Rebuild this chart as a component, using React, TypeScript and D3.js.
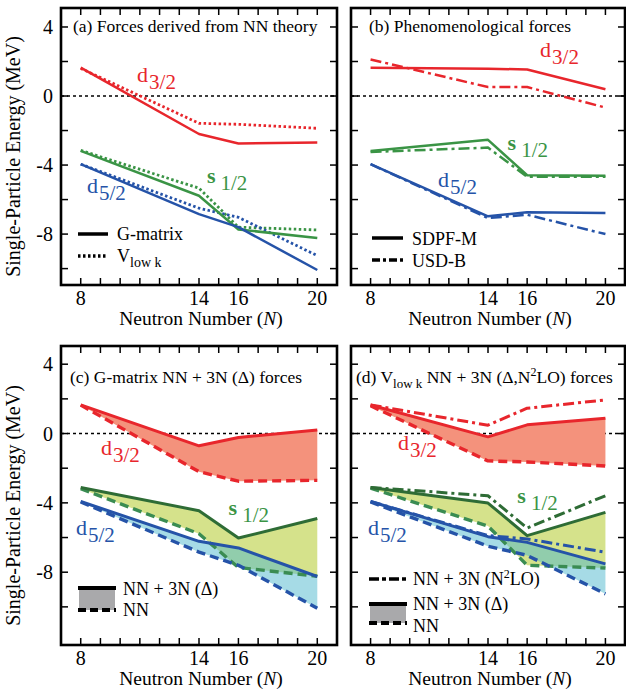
import * as d3 from "d3";

// neutron numbers where the calculations were done
const NS = [8, 14, 16, 20];
const X_TICKS = d3.range(8, 21);
const X_LABELS = [8, 14, 16, 20];
const Y_TICKS = [-10, -8, -6, -4, -2, 0, 2, 4];
const Y_LABELS = [-8, -4, 0, 4];

// (a) forces derived from NN theory
const gMatrixD32 = [1.64, -2.2, -2.75, -2.7];
const gMatrixS12 = [-3.18, -5.78, -7.73, -8.23];
const gMatrixD52 = [-3.95, -6.84, -7.6, -10.08];
const vlowkD32 = [1.6, -1.58, -1.64, -1.87];
const vlowkS12 = [-3.15, -5.34, -7.6, -7.76];
const vlowkD52 = [-3.95, -6.5, -7.03, -9.25];

// (b) phenomenological forces
const sdpfmD32 = [1.64, 1.58, 1.54, 0.39];
const sdpfmS12 = [-3.18, -2.54, -4.59, -4.62];
const sdpfmD52 = [-3.95, -6.97, -6.74, -6.78];
const usdbD32 = [2.12, 0.52, 0.52, -0.67];
const usdbS12 = [-3.24, -2.99, -4.68, -4.68];
const usdbD52 = [-3.95, -7.07, -6.88, -8.0];

// (c) G-matrix NN + 3N (Delta)
const gDeltaD32 = [1.65, -0.71, -0.23, 0.21];
const gDeltaS12 = [-3.11, -4.45, -6.03, -4.9];
const gDeltaD52 = [-3.92, -6.22, -6.6, -8.25];

// (d) Vlowk NN + 3N (Delta, N2LO)
const vDeltaD32 = [1.65, -0.19, 0.5, 0.88];
const vDeltaS12 = [-3.11, -4.01, -5.89, -4.55];
const vDeltaD52 = [-3.92, -5.95, -6.28, -7.52];
const vN2loD32 = [1.65, 0.48, 1.46, 1.94];
const vN2loS12 = [-3.11, -3.59, -5.45, -3.59];
const vN2loD52 = [-3.92, -5.89, -6.08, -6.85];

const RED = "#e8262c";
const GREEN = "#3a9445";
const GREEN_DK = "#2e6c35";
const GREEN_DASH = "#3a8c52";
const BLUE = "#2553a8";
const FONT = "Liberation Serif";
const TS = { fontFamily: FONT };

const DOTS = "2.5 2.5";
const DASH = "9 5";
const DASHDOT = "11 4 3 4";

type PanelCfg = { id: string; x0: number; x1: number; y0: number; y1: number; yMin: number; yMax: number; yLabels: boolean };

const PA: PanelCfg = { id: "a", x0: 61, x1: 337, y0: 8, y1: 285, yMin: -10.95, yMax: 5.1, yLabels: true };
const PB: PanelCfg = { id: "b", x0: 351, x1: 625, y0: 8, y1: 285, yMin: -10.95, yMax: 5.1, yLabels: false };
const PC: PanelCfg = { id: "c", x0: 61, x1: 337, y0: 346, y1: 645, yMin: -12.2, yMax: 5.05, yLabels: true };
const PD: PanelCfg = { id: "d", x0: 351, x1: 625, y0: 346, y1: 645, yMin: -12.2, yMax: 5.05, yLabels: false };

type Series = { vals: number[]; color: string; width: number; dash?: string };
type Band = { lo: number[]; hi: number[]; color: string; opacity: number };
type Lab = { n: number; v: number; main: string; sub: string; color: string; bold?: boolean };

function Panel({ p, bands, lines, labels }: { p: PanelCfg; bands: Band[]; lines: Series[]; labels: Lab[] }) {
  const x = d3.scaleLinear().domain([7, 21]).range([p.x0, p.x1]);
  const y = d3.scaleLinear().domain([p.yMin, p.yMax]).range([p.y1, p.y0]);
  const line = d3.line<number>().x((_, i) => x(NS[i])).y(d => y(d));
  const tl = 7;
  const clipId = "clip-" + p.id;
  return (
    <g>
      <clipPath id={clipId}>
        <rect x={p.x0} y={p.y0} width={p.x1 - p.x0} height={p.y1 - p.y0} />
      </clipPath>
      <line x1={p.x0} x2={p.x1} y1={y(0)} y2={y(0)} stroke="#000" strokeWidth={1.6} strokeDasharray="3 3" />
      <g clipPath={`url(#${clipId})`}>
        {bands.map((b, k) => {
          const area = d3.area<number>().x((_, i) => x(NS[i])).y0(d => y(d)).y1((_, i) => y(b.hi[i]));
          return <path key={k} d={area(b.lo) || ""} fill={b.color} fillOpacity={b.opacity} />;
        })}
        {lines.map((s, k) => (
          <path key={k} d={line(s.vals) || ""} fill="none" stroke={s.color} strokeWidth={s.width}
            strokeDasharray={s.dash} strokeLinejoin="round" />
        ))}
      </g>
      {X_TICKS.map(n => (
        <g key={"x" + n}>
          <line x1={x(n)} x2={x(n)} y1={p.y1} y2={p.y1 - tl} stroke="#000" strokeWidth={1.5} />
          <line x1={x(n)} x2={x(n)} y1={p.y0} y2={p.y0 + tl} stroke="#000" strokeWidth={1.5} />
        </g>
      ))}
      {Y_TICKS.map(v => (
        <g key={"y" + v}>
          <line x1={p.x0} x2={p.x0 + tl} y1={y(v)} y2={y(v)} stroke="#000" strokeWidth={1.5} />
          <line x1={p.x1} x2={p.x1 - tl} y1={y(v)} y2={y(v)} stroke="#000" strokeWidth={1.5} />
        </g>
      ))}
      <rect x={p.x0} y={p.y0} width={p.x1 - p.x0} height={p.y1 - p.y0} fill="none" stroke="#000" strokeWidth={2.6} />
      {X_LABELS.map(n => (
        <text key={"xl" + n} x={x(n)} y={p.y1 + 20} textAnchor="middle" fontSize={20} style={TS}>{n}</text>
      ))}
      {p.yLabels && Y_LABELS.map(v => (
        <text key={"yl" + v} x={p.x0 - 8} y={y(v) + 7} textAnchor="end" fontSize={20} style={TS}>{v}</text>
      ))}
      {p.yLabels && (
        <text transform={`translate(20,${(p.y0 + p.y1) / 2 + 10}) rotate(-90)`} textAnchor="middle" fontSize={20} style={TS}>
          Single-Particle Energy (MeV)
        </text>
      )}
      <text x={(p.x0 + p.x1) / 2 + 2} y={p.y1 + 40} textAnchor="middle" fontSize={19.5} style={TS}>
        Neutron Number (<tspan fontStyle="italic">N</tspan>)
      </text>
      {labels.map((l, k) => (
        <text key={"lab" + k} x={x(l.n)} y={y(l.v)} fill={l.color} fontSize={22} style={TS}>
          <tspan fontWeight={l.bold ? "bold" : "normal"}>{l.main}</tspan>
          <tspan dx={l.bold ? 5 : 1} dy={7} fontSize={21}>{l.sub}</tspan>
        </text>
      ))}
    </g>
  );
}

export default function App() {
  return (
    <div style={{ position: "absolute", left: 0, top: 0 }}>
      <svg width={626} height={692} style={{ background: "#fff" }}>
        {/* (a) */}
        <Panel p={PA}
          bands={[]}
          lines={[
            { vals: vlowkD32, color: RED, width: 2.8, dash: DOTS },
            { vals: vlowkS12, color: GREEN, width: 2.8, dash: DOTS },
            { vals: vlowkD52, color: BLUE, width: 2.8, dash: DOTS },
            { vals: gMatrixD32, color: RED, width: 2.5 },
            { vals: gMatrixS12, color: GREEN, width: 2.5 },
            { vals: gMatrixD52, color: BLUE, width: 2.5 },
          ]}
          labels={[
            { n: 10.86, v: 0.8, main: "d", sub: "3/2", color: RED },
            { n: 14.4, v: -5.03, main: "s", sub: "1/2", color: GREEN, bold: true },
            { n: 8.32, v: -5.6, main: "d", sub: "5/2", color: BLUE },
          ]} />
        <text x={73} y={32} fontSize={17.5} style={TS}>(a) Forces derived from NN theory</text>
        <line x1={78} x2={108} y1={234} y2={234} stroke="#000" strokeWidth={3.5} />
        <line x1={78} x2={108} y1={256} y2={256} stroke="#000" strokeWidth={3.5} strokeDasharray={DOTS} />
        <text x={117} y={240} fontSize={18} style={TS}>G-matrix</text>
        <text x={117} y={262} fontSize={18} style={TS}>V<tspan dy={5} fontSize={14}>low k</tspan></text>

        {/* (b) */}
        <Panel p={PB}
          bands={[]}
          lines={[
            { vals: usdbD32, color: RED, width: 2.5, dash: DASHDOT },
            { vals: usdbS12, color: GREEN, width: 2.5, dash: DASHDOT },
            { vals: usdbD52, color: BLUE, width: 2.5, dash: DASHDOT },
            { vals: sdpfmD32, color: RED, width: 2.5 },
            { vals: sdpfmS12, color: GREEN, width: 2.5 },
            { vals: sdpfmD52, color: BLUE, width: 2.5 },
          ]}
          labels={[
            { n: 16.66, v: 2.25, main: "d", sub: "3/2", color: RED },
            { n: 15.0, v: -3.13, main: "s", sub: "1/2", color: GREEN, bold: true },
            { n: 11.45, v: -5.3, main: "d", sub: "5/2", color: BLUE },
          ]} />
        <text x={369} y={32} fontSize={17.5} style={TS}>(b) Phenomenological forces</text>
        <line x1={372} x2={403} y1={238} y2={238} stroke="#000" strokeWidth={3.5} />
        <line x1={372} x2={403} y1={260} y2={260} stroke="#000" strokeWidth={3.5} strokeDasharray="8 3 3 3" />
        <text x={412} y={245} fontSize={18} style={TS}>SDPF-M</text>
        <text x={412} y={267} fontSize={18} style={TS}>USD-B</text>

        {/* (c) */}
        <Panel p={PC}
          bands={[
            { lo: gMatrixD32, hi: gDeltaD32, color: "#f4927c", opacity: 1 },
            { lo: gMatrixS12, hi: gDeltaS12, color: "#d5e28b", opacity: 1 },
            { lo: gMatrixD52, hi: gDeltaD52, color: "#4db7cd", opacity: 0.5 },
          ]}
          lines={[
            { vals: gMatrixD32, color: RED, width: 3.4, dash: DASH },
            { vals: gMatrixS12, color: GREEN_DASH, width: 3.4, dash: DASH },
            { vals: gMatrixD52, color: BLUE, width: 3.4, dash: DASH },
            { vals: gDeltaD32, color: RED, width: 3 },
            { vals: gDeltaS12, color: GREEN_DK, width: 3 },
            { vals: gDeltaD52, color: BLUE, width: 3 },
          ]}
          labels={[
            { n: 9.03, v: -1.26, main: "d", sub: "3/2", color: RED },
            { n: 15.5, v: -4.72, main: "s", sub: "1/2", color: GREEN, bold: true },
            { n: 7.76, v: -5.87, main: "d", sub: "5/2", color: BLUE },
          ]} />
        <text x={70} y={383} fontSize={17.5} style={TS}>(c) G-matrix NN + 3N (Δ) forces</text>
        <rect x={79} y={588} width={36} height={22} fill="#a9a9ab" />
        <line x1={78} x2={116} y1={588} y2={588} stroke="#000" strokeWidth={4} />
        <line x1={78} x2={116} y1={610} y2={610} stroke="#000" strokeWidth={4} strokeDasharray="8 4" />
        <text x={123} y={595} fontSize={18} style={TS}>NN + 3N (Δ)</text>
        <text x={123} y={616} fontSize={18} style={TS}>NN</text>

        {/* (d) */}
        <Panel p={PD}
          bands={[
            { lo: vlowkD32, hi: vDeltaD32, color: "#f4927c", opacity: 1 },
            { lo: vlowkS12, hi: vDeltaS12, color: "#d5e28b", opacity: 1 },
            { lo: vlowkD52, hi: vDeltaD52, color: "#4db7cd", opacity: 0.5 },
          ]}
          lines={[
            { vals: vlowkD32, color: RED, width: 3.4, dash: DASH },
            { vals: vlowkS12, color: GREEN_DASH, width: 3.4, dash: DASH },
            { vals: vlowkD52, color: BLUE, width: 3.4, dash: DASH },
            { vals: vDeltaD32, color: RED, width: 3 },
            { vals: vDeltaS12, color: GREEN_DK, width: 3 },
            { vals: vDeltaD52, color: BLUE, width: 3 },
            { vals: vN2loD32, color: RED, width: 3, dash: DASHDOT },
            { vals: vN2loS12, color: GREEN_DK, width: 3, dash: DASHDOT },
            { vals: vN2loD52, color: BLUE, width: 3, dash: DASHDOT },
          ]}
          labels={[
            { n: 9.4, v: -0.97, main: "d", sub: "3/2", color: RED },
            { n: 15.5, v: -4.0, main: "s", sub: "1/2", color: GREEN, bold: true },
            { n: 7.87, v: -5.87, main: "d", sub: "5/2", color: BLUE },
          ]} />
        <text x={356} y={383} fontSize={17.5} style={TS}>
          (d) V<tspan dy={5} fontSize={13}>low k</tspan>
          <tspan dy={-5}> NN + 3N (Δ,N</tspan>
          <tspan dy={-7} fontSize={12}>2</tspan>
          <tspan dy={7}>LO) forces</tspan>
        </text>
        <line x1={369} x2={407} y1={579} y2={579} stroke="#000" strokeWidth={3.5} strokeDasharray="10 3 4 3" />
        <rect x={370} y={604} width={36} height={19} fill="#a9a9ab" />
        <line x1={369} x2={407} y1={604} y2={604} stroke="#000" strokeWidth={4} />
        <line x1={369} x2={407} y1={623} y2={623} stroke="#000" strokeWidth={4} strokeDasharray="8 4" />
        <text x={413} y={585} fontSize={18} style={TS}>
          NN + 3N (N<tspan dy={-7} fontSize={12}>2</tspan><tspan dy={7}>LO)</tspan>
        </text>
        <text x={413} y={610} fontSize={18} style={TS}>NN + 3N (Δ)</text>
        <text x={413} y={632} fontSize={18} style={TS}>NN</text>
      </svg>
    </div>
  );
}
